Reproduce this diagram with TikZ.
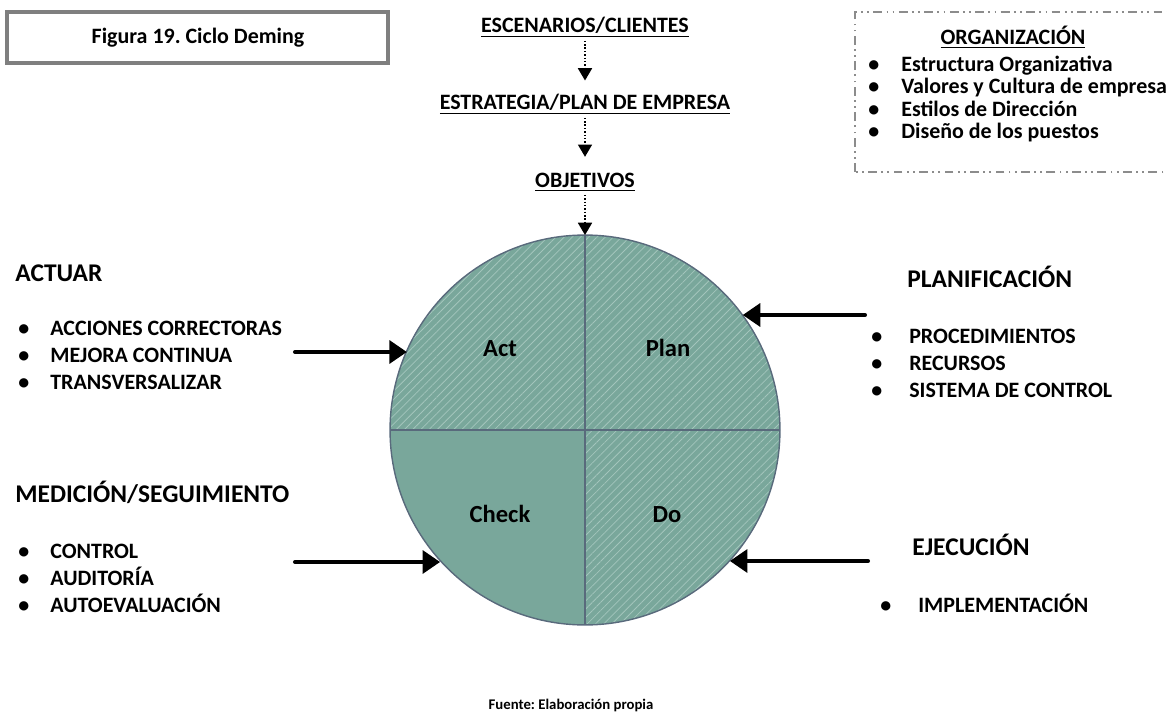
\documentclass[tikz,border=0pt]{standalone}
\usepackage{fontspec}
\setmainfont{Carlito}
\frenchspacing
\usetikzlibrary{arrows.meta,patterns.meta}

\definecolor{verde}{HTML}{79A79B}
\definecolor{rayas}{HTML}{A3C5BC}
\definecolor{contorno}{HTML}{596A7C}
\definecolor{marco}{HTML}{7F7F7F}
\definecolor{guiones}{HTML}{8C8C8C}

\tikzset{
  titulo/.style={font=\fontsize{14.5}{17}\selectfont\bfseries, anchor=base west, inner sep=0pt},
  lista/.style={font=\fontsize{12.5}{15.3}\selectfont\bfseries, anchor=west, align=left, inner sep=0pt},
  etapa/.style={font=\fontsize{12.5}{14}\selectfont\bfseries, inner sep=2pt},
  fase/.style={font=\fontsize{14}{16}\selectfont\bfseries, anchor=base},
  flecha/.style={line width=2.3pt, line cap=round, -{Triangle[length=10pt,width=13pt]}},
  punteada/.style={line width=0.9pt, densely dotted, -{Triangle[length=7pt,width=8pt]}},
  rayado/.style={pattern={Lines[angle=45,distance=3.3pt,line width=0.45pt]}, pattern color=rayas},
  borde/.style={draw=contorno, line width=0.8pt}
}
\newcommand\punto[1][0.64cm]{\makebox[#1][l]{\textbullet}}

\begin{document}
\begin{tikzpicture}[x=0.02cm,y=0.02cm]
			%%%%% START %%%%%
			\useasboundingbox (0,0) rectangle (1167,711);
			
			\draw[marco, line width=2.2pt] (7,648) rectangle (388,699);
			\node[font=\fontsize{12.5}{14}\selectfont\bfseries] (figura) at (198,673) {Figura 19. Ciclo Deming};
			
			\node[etapa] (escen) at (585,684) {\underline{ESCENARIOS/CLIENTES}};
			\node[etapa] (estrat) at (585,607) {\underline{ESTRATEGIA/PLAN DE EMPRESA}};
			\node[etapa] (objet) at (585,529) {\underline{OBJETIVOS}};
			\draw[punteada, shorten >=5.5pt] (escen.south) -- (estrat.north);
			\draw[punteada, shorten >=7pt] (estrat.south) -- (objet.north);
			
			% circulo y cuadrantes
			\coordinate (c) at (585,281);
			\fill[verde] (c) circle (195);
			\path[rayado] (c) -- ++(0,195) arc (90:0:195) -- cycle;
			\path[rayado] (c) -- ++(-195,0) arc (180:90:195) -- cycle;
			\path[rayado] (c) -- ++(195,0) arc (0:-90:195) -- cycle;
			\node[circle, borde, minimum size=7.8cm, inner sep=0pt, outer sep=0pt] (ciclo) at (c) {};
			\draw[borde] (ciclo.north) -- (ciclo.south);
			\draw[borde, line width=1.1pt] (ciclo.west) -- (ciclo.east);
			\draw[punteada] (objet.south) -- (ciclo.north);
			
			\node[fase] (act) at (500,355) {Act};
			\node[fase] (plan) at (668,355) {Plan};
			\node[fase] (check) at (500,189) {Check};
			\node[fase] (do) at (667,189) {Do};
			
			% lado izquierdo
			\node[titulo] (actuar) at (15,429) {ACTUAR};
			\node[lista] (lactuar) at (18,356) {\punto ACCIONES CORRECTORAS\\ \punto MEJORA CONTINUA\\ \punto TRANSVERSALIZAR};
			\node[titulo] (medicion) at (15,209) {MEDICIÓN/SEGUIMIENTO};
			\node[lista] (lmedicion) at (18,133) {\punto CONTROL\\ \punto AUDITORÍA\\ \punto AUTOEVALUACIÓN};
			
			% lado derecho
			\node[titulo] (planif) at (907,423) {PLANIFICACIÓN};
			\node[lista] (lplanif) at (871,348) {\punto[0.66cm] PROCEDIMIENTOS\\ \punto[0.66cm] RECURSOS\\ \punto[0.66cm] SISTEMA DE CONTROL};
			\node[titulo] (ejec) at (912,156) {EJECUCIÓN};
			\node[lista] (lejec) at (880,108) {\punto[0.66cm] IMPLEMENTACIÓN};
			
			\draw[guiones, line width=1pt, dash pattern=on 5pt off 2.5pt on 1pt off 2.5pt on 1pt off 2.5pt] (855,539) rectangle (1190,699);
			\node[etapa] (org) at (1013,674) {\underline{ORGANIZACIÓN}};
			\node[lista, font=\fontsize{12.5}{12.6}\selectfont\bfseries] (lorg) at (868,612) {\punto[0.56cm] Estructura Organizativa\\ \punto[0.56cm] Valores y Cultura de empresa\\ \punto[0.56cm] Estilos de Dirección\\ \punto[0.56cm] Diseño de los puestos};
			
			% flechas
			\coordinate (pAct) at (295,359);
			\coordinate (pCheck) at (295,149);
			\coordinate (pPlan) at (865,396);
			\coordinate (pDo) at (868,150);
			\draw[flecha] (pAct) -- (pAct -| ciclo.156.5);
			\draw[flecha] (pCheck) -- (pCheck -| ciclo.222.5);
			\draw[flecha] (pPlan) -- (pPlan -| ciclo.36);
			\draw[flecha] (pDo) -- (pDo -| ciclo.318);
			
			\node[font=\fontsize{8.4}{10}\selectfont\bfseries] (fuente) at (571,6) {Fuente: Elaboración propia};
			%%%%% END %%%%%
\end{tikzpicture}
\end{document}
